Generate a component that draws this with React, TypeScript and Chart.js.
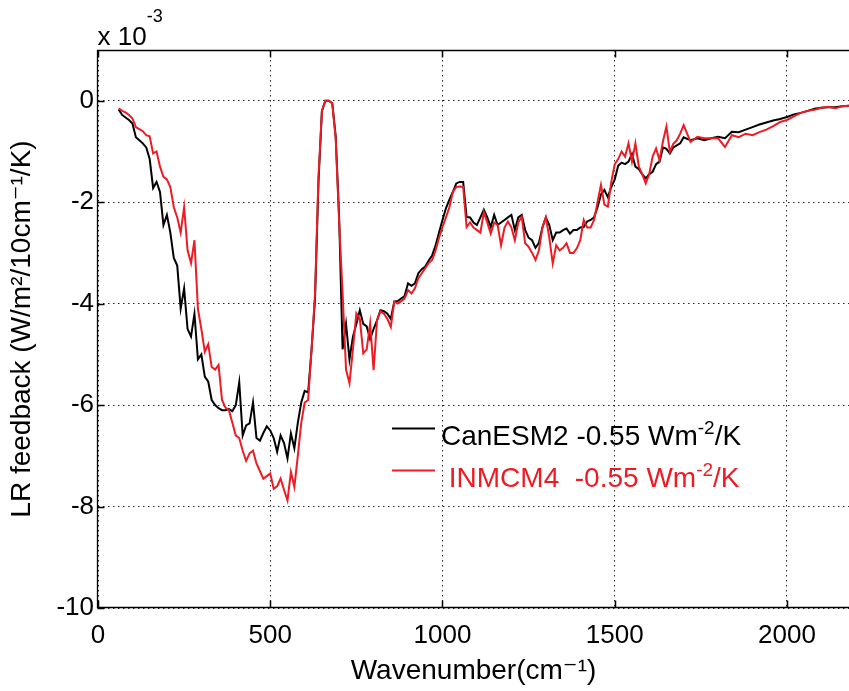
import React, { useEffect, useRef } from "react";
import { Chart, registerables } from "chart.js";

Chart.register(...registerables);

// Wavenumber (cm^-1)
const wavenumbers = [
  60, 70, 80, 90, 100, 110, 120, 130, 140, 150,
  160, 170, 180, 190, 200, 210, 220, 230, 240, 250,
  260, 270, 280, 290, 300, 310, 320, 330, 340, 350,
  360, 370, 380, 390, 400, 410, 420, 430, 440, 450,
  460, 470, 480, 490, 500, 510, 520, 530, 540, 550,
  560, 570, 580, 590, 600, 610, 620, 630, 640, 650,
  660, 670, 680, 690, 700, 710, 720, 730, 740, 750,
  760, 770, 780, 790, 800, 810, 820, 830, 840, 850,
  860, 870, 880, 890, 900, 910, 920, 930, 940, 950,
  960, 970, 980, 990, 1000, 1010, 1020, 1030, 1040, 1050,
  1060, 1070, 1080, 1090, 1100, 1110, 1120, 1130, 1140, 1150,
  1160, 1170, 1180, 1190, 1200, 1210, 1220, 1230, 1240, 1250,
  1260, 1270, 1280, 1290, 1300, 1310, 1320, 1330, 1340, 1350,
  1360, 1370, 1380, 1390, 1400, 1410, 1420, 1430, 1440, 1450,
  1460, 1470, 1480, 1490, 1500, 1510, 1520, 1530, 1540, 1550,
  1560, 1570, 1580, 1590, 1600, 1610, 1620, 1630, 1640, 1650,
  1660, 1670, 1680, 1690, 1700, 1720, 1740, 1760, 1780, 1800,
  1820, 1840, 1860, 1880, 1900, 1920, 1940, 1960, 1980, 2000,
  2020, 2040, 2060, 2080, 2100, 2120, 2140, 2160, 2180,
];

// LR feedback, in units of 1e-3 W/m2/10cm-1/K
const canESM2 = [
  -0.17, -0.28, -0.33, -0.38, -0.45, -0.72, -0.78, -0.84, -0.92, -1.15,
  -1.72, -1.6, -1.8, -2.45, -2.25, -2.6, -3.1, -3.25, -4.1, -3.7,
  -4.5, -4.65, -4.2, -5.1, -5.0, -5.44, -5.54, -5.9, -6.0, -6.06,
  -6.1, -6.1, -6.08, -6.12, -6.0, -5.55, -6.6, -6.4, -6.36, -5.95,
  -6.65, -6.7, -6.55, -6.42, -6.5, -6.65, -6.92, -6.6, -6.75, -7.05,
  -6.56, -6.85, -6.35, -5.95, -5.72, -5.75, -4.9, -3.9, -1.6, -0.2,
  0.0, 0.0, -0.05, -0.7, -2.3, -4.9, -4.4, -5.1, -4.65, -4.4,
  -4.13, -4.4, -4.45, -4.7, -4.5, -4.33, -4.13, -4.15, -4.2, -4.3,
  -3.96, -3.95, -3.9, -3.85, -3.6, -3.65, -3.6, -3.4, -3.32, -3.27,
  -3.15, -3.05, -2.85, -2.6, -2.35, -2.12, -1.95, -1.8, -1.63, -1.6,
  -1.6, -2.29, -2.3, -2.4, -2.45, -2.3, -2.15, -2.3, -2.49, -2.25,
  -2.45, -2.4, -2.35, -2.3, -2.25, -2.55, -2.3, -2.25, -2.55, -2.7,
  -2.75, -2.9, -2.8, -2.5, -2.3, -2.45, -2.75, -2.6, -2.6, -2.55,
  -2.52, -2.62, -2.55, -2.55, -2.5, -2.49, -2.38, -2.35, -2.3, -2.1,
  -1.85, -1.76, -1.9, -1.7, -1.55, -1.28, -1.22, -1.25, -1.2, -1.05,
  -1.3, -1.35, -1.45, -1.53, -1.45, -1.4, -1.25, -1.2, -0.92, -0.95,
  -1.04, -0.92, -0.88, -0.84, -0.72, -0.78, -0.74, -0.78, -0.74, -0.71,
  -0.74, -0.61, -0.62, -0.57, -0.52, -0.47, -0.43, -0.39, -0.36, -0.32,
  -0.27, -0.24, -0.2, -0.16, -0.14, -0.13, -0.13, -0.11, -0.1,
];

const inmcm4 = [
  -0.15, -0.2, -0.23, -0.28, -0.35, -0.52, -0.56, -0.6, -0.68, -0.7,
  -1.04, -1.0, -1.3, -1.5, -1.55, -1.7, -2.1, -2.3, -2.6, -2.1,
  -2.95, -3.2, -2.75, -4.1, -4.5, -4.95, -4.8, -5.25, -5.3, -5.21,
  -5.9, -6.05, -6.1, -6.35, -6.6, -6.65, -6.9, -7.1, -6.95, -6.9,
  -7.15, -7.3, -7.45, -7.4, -7.35, -7.65, -7.6, -7.45, -7.67, -7.88,
  -7.32, -7.61, -7.0, -6.35, -5.95, -5.9, -4.9, -3.8, -1.5, -0.2,
  0.0, 0.0, -0.05, -0.75, -2.4, -3.8, -5.3, -5.57, -4.9, -4.19,
  -4.3, -4.98, -4.9, -4.39, -5.31, -4.33, -4.15, -4.2, -4.3, -4.46,
  -3.96, -4.0, -3.95, -3.9, -3.73, -3.8, -3.7, -3.5, -3.4, -3.3,
  -3.2, -3.14, -2.95, -2.7, -2.49, -2.3, -2.1, -1.8, -1.7, -1.69,
  -1.7, -2.49, -2.4, -2.5, -2.55, -2.6, -2.2, -2.4, -2.62, -2.4,
  -2.45, -2.85, -2.5, -2.38, -2.5, -2.75, -2.4, -2.29, -2.81, -2.88,
  -3.0, -3.14, -2.95, -2.5, -2.3, -2.7, -3.21, -2.85, -2.95, -2.9,
  -2.81, -3.0, -3.0, -2.91, -2.75, -2.35, -2.5, -2.5, -2.35, -2.0,
  -1.66, -2.05, -2.09, -1.6, -1.25, -1.15, -1.0, -1.1, -0.84, -1.2,
  -0.84, -1.3, -1.45, -1.63, -1.45, -1.1, -0.94, -1.17, -0.8, -0.51,
  -1.01, -0.85, -0.78, -0.65, -0.48, -0.81, -0.71, -0.74, -0.74, -0.74,
  -0.91, -0.68, -0.72, -0.65, -0.68, -0.62, -0.57, -0.5, -0.42, -0.38,
  -0.31, -0.24, -0.2, -0.18, -0.14, -0.12, -0.15, -0.11, -0.1,
];

const seriesLabels = ["CanESM2 -0.55 Wm\u207B\u00B2/K", " INMCM4  -0.55 Wm\u207B\u00B2/K"];
const seriesColors = ["#000000", "#ed1c24"];
const xTicks = [0, 500, 1000, 1500, 2000];
const yTicks = [0, -2, -4, -6, -8, -10];
const xRange = [0, 2180];
const yRange = [-10, 1];
const xTitle = "Wavenumber(cm\u207B\u00B9)";
const yTitle = "LR feedback (W/m\u00B2/10cm\u207B\u00B9/K)";
const exponentLabel = "x 10\u207B\u00B3";

const FONT = "'Liberation Sans', Arial, Helvetica, 'DejaVu Sans', sans-serif";

const SUP_MAP: Record<string, string> = { "\u207B": "-", "\u00B2": "2", "\u00B3": "3", "\u00B9": "1" };

// Draws text, rendering Unicode superscript characters as raised smaller glyphs.
function drawRich(
  ctx: CanvasRenderingContext2D,
  text: string,
  x: number,
  baseline: number,
  size: number,
  supSize: number,
  supRaise: number
) {
  const runs: { t: string; sup: boolean }[] = [];
  for (const ch of text) {
    const sup = ch in SUP_MAP;
    const c = sup ? SUP_MAP[ch] : ch;
    const last = runs[runs.length - 1];
    if (last && last.sup === sup) last.t += c;
    else runs.push({ t: c, sup });
  }
  ctx.textAlign = "left";
  ctx.textBaseline = "alphabetic";
  let cx = x;
  for (const r of runs) {
    ctx.font = `${r.sup ? supSize : size}px ${FONT}`;
    ctx.fillText(r.t, cx, r.sup ? baseline - supRaise : baseline);
    cx += ctx.measureText(r.t).width;
  }
}

const framePlugin = {
  id: "matlabFrame",
  afterDatasetsDraw(chart: any) {
    const { ctx, chartArea, scales } = chart;
    const { left, top, bottom, right } = chartArea;
    const xs = scales.x;
    const ys = scales.y;
    ctx.save();
    ctx.strokeStyle = "#000";
    ctx.lineWidth = 1.3;
    ctx.setLineDash([]);
    const L = Math.round(left) - 0.5;
    const T = Math.round(top) + 0.5;
    const B = Math.round(bottom) - 0.5;
    ctx.beginPath();
    ctx.moveTo(right + 2, T);
    ctx.lineTo(L, T);
    ctx.lineTo(L, B);
    ctx.lineTo(right + 2, B);
    ctx.stroke();
    ctx.lineWidth = 1.5;
    ctx.beginPath();
    for (const v of xTicks) {
      const px = Math.round(xs.getPixelForValue(v)) + 0.5;
      ctx.moveTo(px, B);
      ctx.lineTo(px, B - 7);
      ctx.moveTo(px, T);
      ctx.lineTo(px, T + 7);
    }
    for (const v of yTicks) {
      const py = Math.round(ys.getPixelForValue(v)) + 0.5;
      ctx.moveTo(L, py);
      ctx.lineTo(L + 7, py);
    }
    ctx.stroke();

    // axis exponent label
    ctx.fillStyle = "#000";
    drawRich(ctx, exponentLabel, L, 45, 26, 18, 23);

    // legend (box off)
    const rows = [428, 470];
    chart.data.datasets.forEach((ds: any, i: number) => {
      const yy = rows[i];
      ctx.strokeStyle = ds.borderColor;
      ctx.lineWidth = 2;
      ctx.beginPath();
      ctx.moveTo(392, yy + 0.5);
      ctx.lineTo(435, yy + 0.5);
      ctx.stroke();
      ctx.fillStyle = ds.borderColor;
      drawRich(ctx, ds.label, 441, yy + 17, 28, 19, 11);
    });
    ctx.restore();
  },
};

export default function App() {
  const canvasRef = useRef<HTMLCanvasElement | null>(null);

  useEffect(() => {
    const canvas = canvasRef.current;
    if (!canvas) return;
    const toPoints = (ys: number[]) => wavenumbers.map((x, i) => ({ x, y: ys[i] }));
    const chart = new Chart(canvas, {
      type: "line",
      data: {
        datasets: [
          {
            label: seriesLabels[0],
            data: toPoints(canESM2),
            borderColor: seriesColors[0],
            backgroundColor: seriesColors[0],
            borderWidth: 2,
            pointRadius: 0,
            tension: 0,
            order: 1,
          },
          {
            label: seriesLabels[1],
            data: toPoints(inmcm4),
            borderColor: seriesColors[1],
            backgroundColor: seriesColors[1],
            borderWidth: 2,
            pointRadius: 0,
            tension: 0,
            order: 0,
          },
        ],
      },
      options: {
        responsive: false,
        animation: false,
        devicePixelRatio: 1,
        layout: { padding: { top: 50, left: 0, right: 0, bottom: 0 } },
        plugins: {
          legend: { display: false },
          tooltip: { enabled: false },
        },
        scales: {
          x: {
            type: "linear",
            position: "bottom",
            min: xRange[0],
            max: xRange[1],
            afterFit: (s: any) => {
              s.height = 83;
            },
            afterBuildTicks: (s: any) => {
              s.ticks = xTicks.map((v) => ({ value: v }));
            },
            ticks: {
              color: "#000",
              font: { family: FONT, size: 26 },
              padding: 12,
              maxRotation: 0,
              autoSkip: false,
              includeBounds: false,
              callback: (v: any) => String(v),
            },
            grid: {
              color: "rgba(0,0,0,0.85)",
              lineWidth: 1,
              drawTicks: false,
            },
            border: { display: false, dash: [1.5, 3.5] },
            title: {
              display: true,
              text: xTitle,
              color: "#000",
              font: { family: FONT, size: 28 },
              padding: { top: 0, bottom: 3 },
            },
          },
          y: {
            type: "linear",
            min: yRange[0],
            max: yRange[1],
            afterFit: (s: any) => {
              s.width = 98;
            },
            afterBuildTicks: (s: any) => {
              s.ticks = yTicks.slice().reverse().map((v) => ({ value: v }));
            },
            ticks: {
              color: "#000",
              font: { family: FONT, size: 26 },
              padding: 4,
              autoSkip: false,
              includeBounds: false,
              callback: (v: any) => String(v),
            },
            grid: {
              color: "rgba(0,0,0,0.85)",
              lineWidth: 1,
              drawTicks: false,
            },
            border: { display: false, dash: [1.5, 3.5] },
            title: {
              display: true,
              text: yTitle,
              color: "#000",
              font: { family: FONT, size: 28 },
              padding: { top: 5, bottom: 0 },
            },
          },
        },
      },
      plugins: [framePlugin],
    });
    return () => chart.destroy();
  }, []);

  return (
    <div style={{ position: "fixed", left: 0, top: 0, width: 849, height: 691, background: "#fff" }}>
      <canvas ref={canvasRef} width={849} height={691} style={{ display: "block" }} />
    </div>
  );
}
